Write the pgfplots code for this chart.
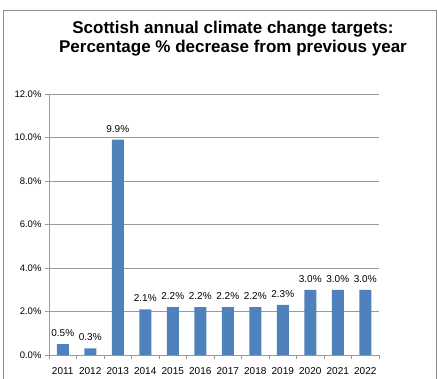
\documentclass[border=0pt]{standalone}
\usepackage{fontspec}
\setmainfont{Liberation Sans}
\usepackage{pgfplots}
\pgfplotsset{compat=1.18}
\definecolor{barblue}{HTML}{4F81BD}
\definecolor{gridgray}{HTML}{9A9A9A}
\definecolor{bordergray}{HTML}{8C8C8C}
\begin{document}
\begin{tikzpicture}
\begin{axis}[
  at={(49pt,23pt)}, anchor=south west,
  scale only axis, width=330pt, height=261pt,
  xmin=-0.5, xmax=11.5, ymin=0, ymax=12,
  ytick={0,2,...,12},
  yticklabel={\pgfmathprintnumber[fixed,fixed zerofill,precision=1]{\tick}\%},
  xtick={-0.5,0.5,...,11.5},
  xticklabels={2011,2012,2013,2014,2015,2016,2017,2018,2019,2020,2021,2022},
  x tick label as interval=true,
  ymajorgrids,
  grid style={gridgray, line width=0.6pt},
  axis x line*=bottom, axis y line*=left,
  axis line style={gridgray, -, line width=0.8pt},
  tick style={gridgray, line width=0.6pt},
  tick align=outside, major tick length=4pt,
  /pgf/number format/assume math mode=true,
  yticklabel style={font=\fontsize{9.5}{11}\selectfont},
  xticklabel style={font=\fontsize{10}{12}\selectfont, yshift=-5pt},
  ybar, bar width=12pt,
  nodes near coords={\pgfmathprintnumber[fixed,fixed zerofill,precision=1]{\pgfplotspointmeta}\%},
  every node near coord/.append style={font=\fontsize{10}{12}\selectfont, yshift=4pt},
]
\addplot[fill=barblue, draw=none] coordinates {
(0,0.5) (1,0.3) (2,9.9) (3,2.1) (4,2.2) (5,2.2) (6,2.2) (7,2.2) (8,2.3) (9,3.0) (10,3.0) (11,3.0)
};
\end{axis}
\draw[bordergray, line width=0.9pt] (3pt,-2pt) -- (3pt,368pt) -- (436.5pt,368pt) -- (436.5pt,-2pt);
\node[font=\bfseries\fontsize{17}{20}\selectfont, anchor=base] at (233pt,344.7pt) {Scottish annual climate change targets:};
\node[font=\bfseries\fontsize{17}{20}\selectfont, anchor=base] at (233pt,325.3pt) {Percentage \% decrease from previous year};
\pgfresetboundingbox
\useasboundingbox (0pt,0pt) rectangle (438pt,378pt);
\end{tikzpicture}
\end{document}
